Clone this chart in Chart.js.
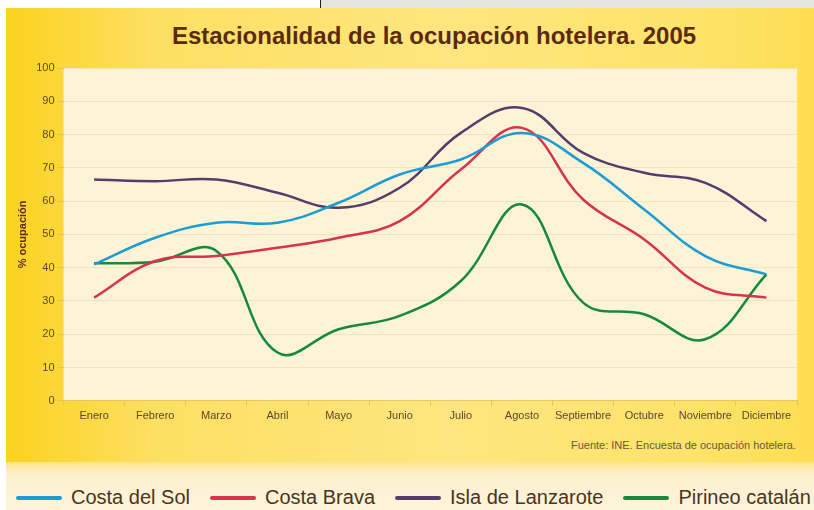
<!DOCTYPE html>
<html lang="es">
<head>
<meta charset="utf-8">
<title>Estacionalidad de la ocupación hotelera. 2005</title>
<script src="https://cdn.jsdelivr.net/npm/chart.js@4.4.0/dist/chart.umd.min.js"></script>
<style>
  body { margin: 0; width: 814px; height: 510px; overflow: hidden; background: #fff; position: relative; font-family: 'Liberation Sans', Arial, sans-serif; }
  #barra { position: absolute; left: 320px; top: 0; width: 494px; height: 8px; background: #e4e4e2; border-left: 1px solid #222; }
  #fondo { position: absolute; left: 6px; top: 8px; right: 0; height: 462px;
    background: linear-gradient(90deg, #fbd21e 0%, #fddf62 18%, #fee67f 55%, #fde36a 85%, #fddd52 100%); }
  #pie { position: absolute; left: 6px; top: 462px; right: 0; bottom: 0;
    background: linear-gradient(180deg, #fde58a 0px, #fdf0cc 12px, #fdf4dc 100%); }
  #titulo { position: absolute; left: 0; width: 868px; top: 22px; text-align: center;
    font: bold 24px 'Liberation Sans', Arial, sans-serif; color: #5b2a0e; }
  #fuente { position: absolute; right: 18px; top: 439px; font-size: 11px; color: #6a5640; }
  #leyenda { position: absolute; left: 16px; top: 486px; display: flex; gap: 20px; font-size: 20px; color: #4a3420; }
  #leyenda span.item { display: flex; align-items: center; gap: 9px; white-space: nowrap; }
  #leyenda span.linea { display: inline-block; width: 46px; height: 4px; border-radius: 2px; }
  #wrap { position: absolute; left: 0; top: 0; width: 814px; height: 510px; }
</style>
</head>
<body>
<div id="barra"></div>
<div id="fondo"></div>
<div id="pie"></div>
<div id="titulo">Estacionalidad de la ocupación hotelera. 2005</div>
<div id="fuente">Fuente: INE. Encuesta de ocupación hotelera.</div>
<div id="leyenda"></div>
<div id="wrap"><canvas id="grafico"></canvas></div>

<script>
// datos (% ocupacion)
const meses = ['Enero', 'Febrero', 'Marzo', 'Abril', 'Mayo', 'Junio', 'Julio', 'Agosto', 'Septiembre', 'Octubre', 'Noviembre', 'Diciembre'];
const zonas = ['Costa del Sol', 'Costa Brava', 'Isla de Lanzarote', 'Pirineo catalán'];
const costaDelSol = [41, 49, 53.5, 53.5, 59.5, 68, 72.5, 80.5, 71.5, 57.5, 43.5, 38];
const costaBrava = [31, 42, 43.5, 46, 49, 54, 69.5, 82, 60.5, 48.5, 34, 31];
const lanzarote = [66.5, 66, 66.5, 62.5, 58, 64, 80.5, 88, 74.5, 68.5, 65.5, 54];
const pirineo = [41.3, 41.8, 45, 14.5, 21.5, 25.5, 36, 59, 29.5, 26, 18.5, 38];
const ticksY = [0, 10, 20, 30, 40, 50, 60, 70, 80, 90, 100];

const colores = ['#1c9bd4', '#d8334f', '#553c6b', '#16893a'];
const series = [costaDelSol, costaBrava, lanzarote, pirineo];

const colorTexto = '#5b4632';

// fondo crema del area de trazado
const fondoArea = {
  id: 'fondoArea',
  beforeDraw(chart) {
    const { ctx, chartArea: a } = chart;
    ctx.save();
    ctx.fillStyle = '#fdf4d8';
    ctx.fillRect(a.left, a.top, a.right - a.left, a.bottom - a.top);
    ctx.restore();
  }
};

const chart = new Chart(document.getElementById('grafico'), {
  type: 'line',
  data: {
    labels: meses,
    datasets: series.map((valores, i) => ({
      label: zonas[i],
      data: valores,
      borderColor: colores[i],
      backgroundColor: colores[i],
      borderWidth: 2.5,
      pointRadius: 0,
      tension: 0.4,
      fill: false
    }))
  },
  options: {
    responsive: true,
    maintainAspectRatio: false,
    animation: false,
    layout: { padding: { left: 12, right: 17, top: 68, bottom: 83 } },
    plugins: {
      legend: { display: false },
      title: { display: false },
      tooltip: { enabled: false }
    },
    scales: {
      x: {
        offset: true,
        grid: { offset: true, drawOnChartArea: false, tickLength: 5, color: '#e6c45a' },
        border: { color: '#e6c660' },
        ticks: { color: colorTexto, font: { family: 'Liberation Sans', size: 11 }, padding: 4, maxRotation: 0, autoSkip: false }
      },
      y: {
        min: 0,
        max: 100,
        afterBuildTicks(scale) { scale.ticks = ticksY.map(v => ({ value: v })); },
        grid: { color: '#f1e3ba', tickColor: '#e6c45a', tickLength: 6 },
        border: { display: false },
        ticks: { color: colorTexto, font: { family: 'Liberation Sans', size: 11 }, padding: 3 },
        title: { display: true, text: '% ocupación', color: '#5b2a0e', font: { family: 'Liberation Sans', size: 11, weight: 'bold' } }
      }
    }
  },
  plugins: [fondoArea]
});

// leyenda en html, a partir de los datasets
const leyenda = document.getElementById('leyenda');
chart.data.datasets.forEach(ds => {
  const item = document.createElement('span');
  item.className = 'item';
  const linea = document.createElement('span');
  linea.className = 'linea';
  linea.style.background = ds.borderColor;
  item.appendChild(linea);
  item.appendChild(document.createTextNode(ds.label));
  leyenda.appendChild(item);
});
</script>
</body>
</html>
